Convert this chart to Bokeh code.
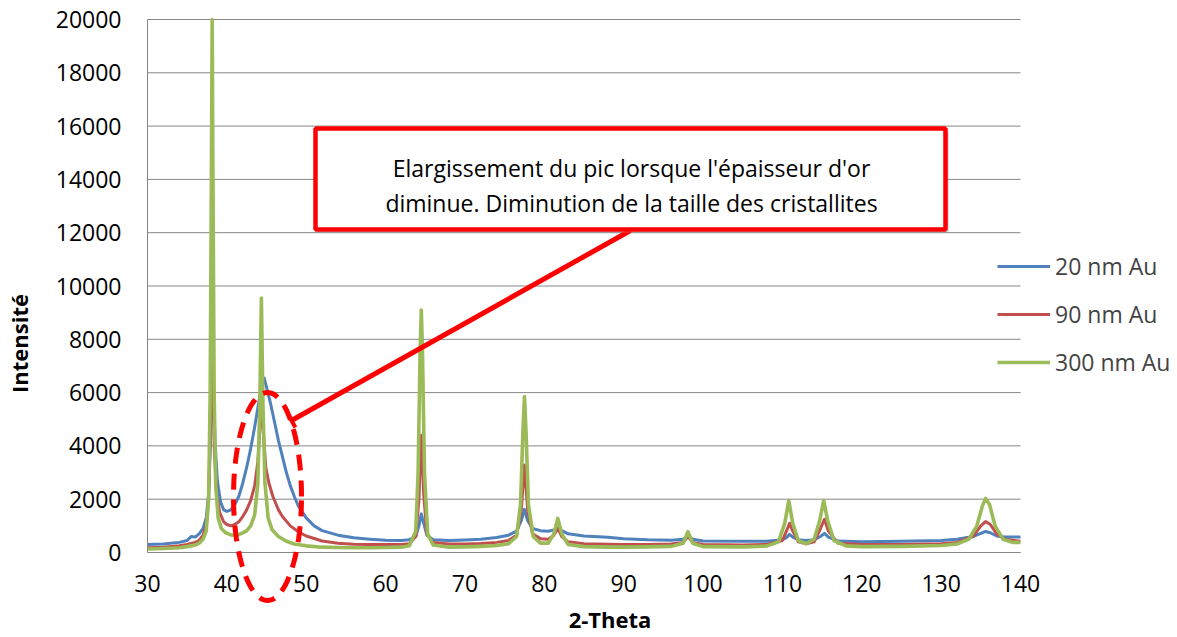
import numpy as np
from bokeh.plotting import figure
from bokeh.models import (Range1d, FixedTicker, NumeralTickFormatter, Legend, LegendItem,
                          BoxAnnotation, Arrow, TeeHead, Label, PolyAnnotation, LinearAxis)
from bokeh.embed import file_html
from bokeh.resources import INLINE

# ---------------- data ----------------
series_names = ["20 nm Au", "90 nm Au", "300 nm Au"]
series_colors = ["#4F81BD", "#C0504D", "#9BBB59"]

x_20 = [30, 32, 34, 35, 35.5, 36, 36.5, 37, 37.4, 37.7, 37.9, 38.1, 38.3, 38.5, 38.8, 39.2, 39.6, 40.0,
        40.5, 41, 41.5, 42, 42.5, 43, 43.5, 44, 44.4, 44.7, 45, 45.5, 46, 46.5, 47, 47.5, 48, 48.5, 49,
        50, 51, 52, 54, 56, 58, 60, 62, 63, 63.8, 64.2, 64.5, 64.8, 65.2, 66, 68, 70, 72, 74, 75.5,
        76.5, 77.1, 77.5, 77.9, 78.5, 79.5, 80.5, 81.2, 81.7, 82.2, 83, 85, 88, 90, 93, 96, 97.5, 98.1,
        98.7, 100, 105, 108, 110, 110.5, 110.9, 111.3, 112, 113, 114, 114.8, 115.3, 115.8, 117, 120,
        125, 130, 132, 134, 135, 135.6, 136.2, 137, 138, 140]
y_20 = [300, 320, 380, 450, 600, 580, 700, 900, 1300, 2200, 3800, 5800, 6200, 4200, 2700, 1900, 1600, 1540,
        1600, 1800, 2100, 2600, 3200, 3900, 4700, 5600, 6300, 6550, 6200, 5600, 4900, 4200, 3600, 3000, 2500, 2100, 1750,
        1300, 1000, 820, 650, 550, 500, 460, 450, 480, 600, 1000, 1450, 1100, 650, 480, 450, 470, 500, 560, 650,
        800, 1200, 1620, 1200, 900, 820, 800, 850, 920, 820, 700, 620, 570, 520, 480, 460, 500, 620,
        500, 430, 420, 420, 480, 560, 680, 580, 480, 450, 480, 600, 720, 580, 430, 400,
        420, 450, 500, 600, 720, 790, 740, 620, 580, 580]

x_90 = [30, 32, 34, 35, 36, 36.5, 37, 37.4, 37.7, 37.9, 38.05, 38.2, 38.4, 38.7, 39.1, 39.6, 40.0, 40.5,
        41, 41.5, 42, 42.5, 43, 43.5, 43.9, 44.2, 44.4, 44.6, 44.9, 45.3, 45.8, 46.5, 47, 48, 49, 50, 52,
        54, 56, 58, 60, 62, 63, 63.8, 64.2, 64.5, 64.8, 65.2, 66, 68, 70, 72, 74, 75.5, 76.5, 77.1, 77.5,
        77.9, 78.5, 79.5, 80.5, 81.2, 81.7, 82.2, 83, 85, 88, 90, 93, 96, 97.5, 98.1, 98.7, 100, 105,
        108, 110, 110.5, 110.9, 111.3, 112, 113, 114, 114.8, 115.3, 115.8, 117, 120, 125, 130, 132,
        134, 135, 135.6, 136.2, 137, 138, 140]
y_90 = [180, 200, 250, 300, 380, 450, 650, 1000, 2000, 4500, 8500, 8000, 4000, 2200, 1500, 1150, 1050, 1000,
        1050, 1150, 1350, 1600, 1950, 2500, 3400, 4800, 6000, 4500, 3200, 2600, 2100, 1600, 1350, 1000, 780, 620, 430,
        350, 310, 300, 300, 300, 330, 600, 2000, 4400, 2200, 700, 380, 320, 320, 340, 380, 450, 650, 1600, 3280,
        1600, 700, 520, 500, 650, 900, 600, 400, 330, 310, 300, 300, 320, 380, 600, 380, 300, 280,
        300, 450, 800, 1100, 800, 400, 330, 400, 900, 1250, 800, 350, 300, 300, 330, 380,
        600, 1000, 1160, 1050, 700, 500, 420]

x_300 = [30, 32, 34, 35, 36, 36.5, 37, 37.4, 37.7, 37.9, 38.05, 38.15, 38.25, 38.4, 38.6, 38.9, 39.3, 39.8,
         40.5, 41, 41.5, 42, 42.5, 43, 43.5, 43.9, 44.15, 44.35, 44.55, 44.8, 45.2, 45.7, 46.5, 47.5, 48.5,
         50, 52, 54, 56, 58, 60, 62, 63, 63.8, 64.1, 64.35, 64.5, 64.65, 64.9, 65.3, 66, 68, 70, 72, 74,
         75.5, 76.5, 77.0, 77.3, 77.5, 77.7, 78.0, 78.6, 79.5, 80.5, 81.2, 81.7, 82.2, 83, 85, 88, 90, 93,
         96, 97.5, 98.1, 98.7, 100, 105, 108, 109.5, 110.3, 110.8, 111.3, 112, 113, 114, 114.7, 115.2,
         115.7, 116.5, 118, 120, 125, 130, 132, 133.5, 134.5, 135.2, 135.6, 136.1, 136.8, 137.8, 139, 140]
y_300 = [130, 150, 180, 220, 280, 350, 500, 800, 2000, 6000, 14000, 20000, 14000, 6000, 2500, 1300, 900, 750,
         660, 650, 680, 730, 820, 1000, 1400, 2600, 5500, 9550, 5500, 2600, 1300, 850, 600, 420, 320,
         250, 200, 190, 180, 180, 190, 200, 250, 800, 3000, 7500, 9100, 7500, 3000, 700, 280, 200, 210, 230, 260,
         330, 600, 1800, 4500, 5850, 4500, 1800, 600, 350, 350, 700, 1280, 700, 300, 220, 200, 200, 210,
         230, 350, 780, 350, 220, 210, 240, 400, 1100, 1950, 1100, 450, 330, 500, 1200, 1950,
         1200, 450, 250, 220, 230, 260, 320, 500, 1000, 1750, 2030, 1800, 1000, 500, 380, 380]

x_ticks = [30, 40, 50, 60, 70, 80, 90, 100, 110, 120, 130, 140]
y_ticks = [0, 2000, 4000, 6000, 8000, 10000, 12000, 14000, 16000, 18000, 20000]

x_title = "2-Theta"
y_title = "Intensité"
annotation_lines = ["Elargissement du pic lorsque l'épaisseur d'or",
                    "diminue. Diminution de la taille des cristallites"]

FONT = "Open Sans"
GRID = "#868686"

# ---------------- layout: the frame covers the whole canvas ----------------
W, H = 1175, 635
PX_L, PX_R, PY_T, PY_B = 147, 1020, 19, 552          # pixel positions of the plot area
X0, X1, Y0, Y1 = x_ticks[0], x_ticks[-1], y_ticks[0], y_ticks[-1]
sx = (PX_R - PX_L) / (X1 - X0)
sy = (PY_B - PY_T) / (Y1 - Y0)


def dx(px):
    return X0 + (px - PX_L) / sx


def dy(py):
    return Y0 + (PY_B - py) / sy


p = figure(frame_width=W, frame_height=H, output_backend="svg", toolbar_location=None,
           x_range=Range1d(dx(0), dx(W)), y_range=Range1d(dy(H), dy(0)),
           x_axis_location=None, y_axis_location=None,
           min_border_left=0, min_border_right=0, min_border_top=0, min_border_bottom=0)
p.outline_line_color = None
p.background_fill_color = "white"
p.xgrid.visible = False
p.ygrid.visible = False

# horizontal gridlines, limited to the plot area
p.segment(x0=[X0] * len(y_ticks), x1=[X1] * len(y_ticks), y0=y_ticks, y1=y_ticks,
          line_color=GRID, line_width=1)

# axes fixed at the plot-area edges
yax = LinearAxis(fixed_location=X0, ticker=FixedTicker(ticks=y_ticks),
                 formatter=NumeralTickFormatter(format="0"), bounds=(Y0, Y1))
xax = LinearAxis(fixed_location=Y0, ticker=FixedTicker(ticks=x_ticks), bounds=(X0, X1))
p.add_layout(yax, "left")
p.add_layout(xax, "below")
for ax in (xax, yax):
    ax.axis_line_color = GRID
    ax.axis_line_width = 1
    ax.major_tick_line_color = None
    ax.minor_tick_line_color = None
    ax.major_tick_out = 0
    ax.major_tick_in = 0
    ax.major_label_text_font = FONT
    ax.major_label_text_font_size = "23px"
    ax.major_label_text_color = "black"
yax.major_label_standoff = 26
xax.major_label_standoff = 22

# axis titles
p.add_layout(Label(x=dx(18), y=dy(343), text=y_title, angle=np.pi / 2, text_align="center",
                   text_baseline="middle", text_font=FONT, text_font_size="22px",
                   text_font_style="bold", text_color="black"))
p.add_layout(Label(x=dx(609.5), y=dy(618), text=x_title, text_align="center",
                   text_baseline="middle", text_font=FONT, text_font_size="22px",
                   text_font_style="bold", text_color="black"))

# series
renderers = []
for xs, ys, c, w in ((x_20, y_20, series_colors[0], 3), (x_90, y_90, series_colors[1], 3),
                     (x_300, y_300, series_colors[2], 3.6)):
    r = p.line(xs, ys, line_color=c, line_width=w, line_join="round")
    renderers.append(r)

legend = Legend(items=[LegendItem(label=n, renderers=[r]) for n, r in zip(series_names, renderers)],
                location=(997, H - 378), label_text_font=FONT, label_text_font_size="23px",
                glyph_width=53, glyph_height=20, label_height=30, label_standoff=5, spacing=16,
                padding=0, margin=0, background_fill_alpha=0, border_line_color=None)
p.add_layout(legend, "center")

# dashed ellipse around the broadened peak
t = np.linspace(0, 2 * np.pi, 121)
ell_x = dx(267) + (34 / sx) * np.cos(t)
ell_y = dy(496) + (104 / sy) * np.sin(t)
p.add_layout(PolyAnnotation(xs=list(ell_x), ys=list(ell_y), fill_alpha=0, line_color="#FF0000",
                            line_alpha=1, line_width=5, line_dash="16 10"))

# arrow from callout to ellipse
p.add_layout(Arrow(x_start=dx(630), y_start=dy(230), x_end=dx(291), y_end=dy(420),
                   line_color="#FF0000", line_width=5,
                   end=TeeHead(size=16, line_color="#FF0000", line_width=4)))

# callout box (shadow + box)
p.add_layout(BoxAnnotation(left=dx(318), right=dx(948), top=dy(131), bottom=dy(232),
                           fill_color="#9a9a9a", fill_alpha=0.5, line_color=None))
p.add_layout(BoxAnnotation(left=dx(315), right=dx(945), top=dy(128), bottom=dy(229),
                           fill_color="white", fill_alpha=1, line_color="#FF0000",
                           line_alpha=1, line_width=4.5))
for txt, py in zip(annotation_lines, [167, 202]):
    p.add_layout(Label(x=dx(631), y=dy(py), text=txt, text_align="center", text_baseline="alphabetic",
                       text_font=FONT, text_font_size="23px", text_color="black"))

open("out.html", "w").write(file_html(p, INLINE))
